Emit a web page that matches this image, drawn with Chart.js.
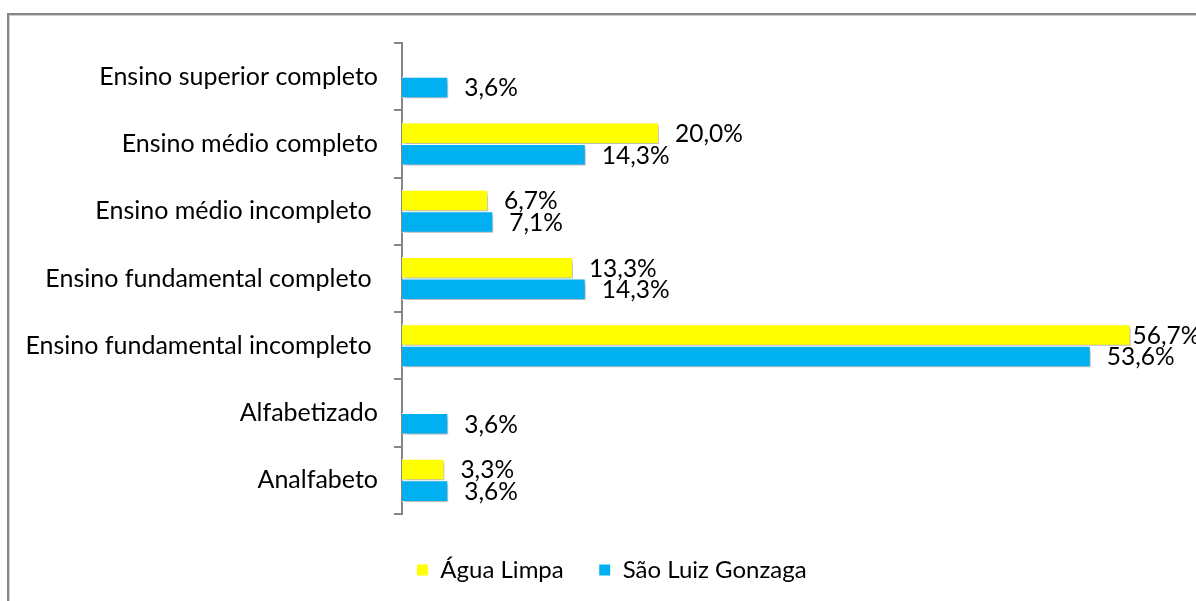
<!DOCTYPE html>
<html>
<head>
<meta charset="utf-8">
<script src="https://cdn.jsdelivr.net/npm/chart.js@4.4.0/dist/chart.umd.min.js"></script>
<style>
  html, body { margin: 0; padding: 0; background: #fff; overflow: hidden; }
  .frame {
    position: absolute; left: 7px; top: 13px; width: 1300px; height: 700px;
    border-top: 2px solid #868686; border-left: 2px solid #868686;
    box-shadow: inset 1px 1px 0 #d0d0d0;
  }
  #wrap { position: absolute; left: 0; top: 0; width: 1196px; height: 601px; }
</style>
</head>
<body>
<div class="frame"></div>
<div id="wrap"><canvas id="chart" width="1196" height="601"></canvas></div>
<script>
// Chart data
const categories = [
    'Ensino superior completo',
    'Ensino médio completo',
    'Ensino médio incompleto ',
    'Ensino fundamental completo ',
    'Ensino fundamental incompleto ',
    'Alfabetizado',
    'Analfabeto'
];
const aguaLimpa = [0, 20.0, 6.7, 13.3, 56.7, 0, 3.3];
const saoLuiz = [3.6, 14.3, 7.1, 14.3, 53.6, 3.6, 3.6];
const seriesNames = ['Água Limpa', 'São Luiz Gonzaga'];

const fontFamily = 'Lato, "Open Sans", sans-serif';

// Shadow under bars, value labels, and a small nudge of the legend
const barExtras = {
    id: 'barExtras',
    afterLayout(chart) {
        // legend sits a bit right of the canvas centre
        if (chart.legend) {
            chart.legend.left += 20;
            chart.legend.right += 20;
        }
    },
    beforeDatasetsDraw(chart) {
        const ctx = chart.ctx;
        ctx.save();
        ctx.shadowColor = 'rgba(0, 0, 0, 0.3)';
        ctx.shadowBlur = 4;
        ctx.shadowOffsetX = 2;
        ctx.shadowOffsetY = 3;
    },
    afterDatasetsDraw(chart) {
        const ctx = chart.ctx;
        ctx.restore();
        ctx.save();
        ctx.font = '24.5px ' + fontFamily;
        ctx.fillStyle = '#000';
        ctx.textAlign = 'left';
        ctx.textBaseline = 'middle';
        chart.data.datasets.forEach((ds, i) => {
            const meta = chart.getDatasetMeta(i);
            meta.data.forEach((bar, j) => {
                const v = ds.data[j];
                if (!v) return;
                const txt = v.toFixed(1).replace('.', ',') + '%';
                let x = bar.x + 16;
                // pull the label in against the bar when it runs off the edge
                if (x + ctx.measureText(txt).width > chart.width) x = bar.x + 2;
                ctx.fillText(txt, x, bar.y + 1);
            });
        });
        ctx.restore();
    }
};

new Chart(document.getElementById('chart'), {
    type: 'bar',
    data: {
        labels: categories,
        datasets: [{
            label: seriesNames[0],
            data: aguaLimpa,
            backgroundColor: '#FFFF00',
            borderColor: '#FFFFFF',
            borderWidth: 1,
            categoryPercentage: 0.64,
            barPercentage: 1.0
        }, {
            label: seriesNames[1],
            data: saoLuiz,
            backgroundColor: '#00B0F0',
            borderColor: '#FFFFFF',
            borderWidth: 1,
            categoryPercentage: 0.64,
            barPercentage: 1.0
        }]
    },
    options: {
        indexAxis: 'y',
        responsive: false,
        animation: false,
        layout: {
            padding: { left: 10, right: 23, top: 43, bottom: 9 }
        },
        scales: {
            x: {
                min: 0,
                max: 60,
                ticks: { display: false },
                grid: { display: false },
                border: { display: false },
                afterFit(scale) { scale.height = 9; }
            },
            y: {
                afterFit(scale) { scale.width = 392; },
                ticks: {
                    color: '#000',
                    padding: 16,
                    font: { family: fontFamily, size: 25 }
                },
                grid: {
                    drawOnChartArea: false,
                    drawTicks: true,
                    tickLength: 8,
                    color: '#868686',
                    lineWidth: 2,
                    offset: true
                },
                border: { display: true, color: '#868686', width: 2 }
            }
        },
        plugins: {
            legend: {
                position: 'bottom',
                labels: {
                    color: '#000',
                    boxWidth: 12,
                    boxHeight: 12,
                    padding: 35,
                    font: { family: fontFamily, size: 24 }
                }
            },
            tooltip: { enabled: false }
        }
    },
    plugins: [barExtras]
});
</script>
</body>
</html>
